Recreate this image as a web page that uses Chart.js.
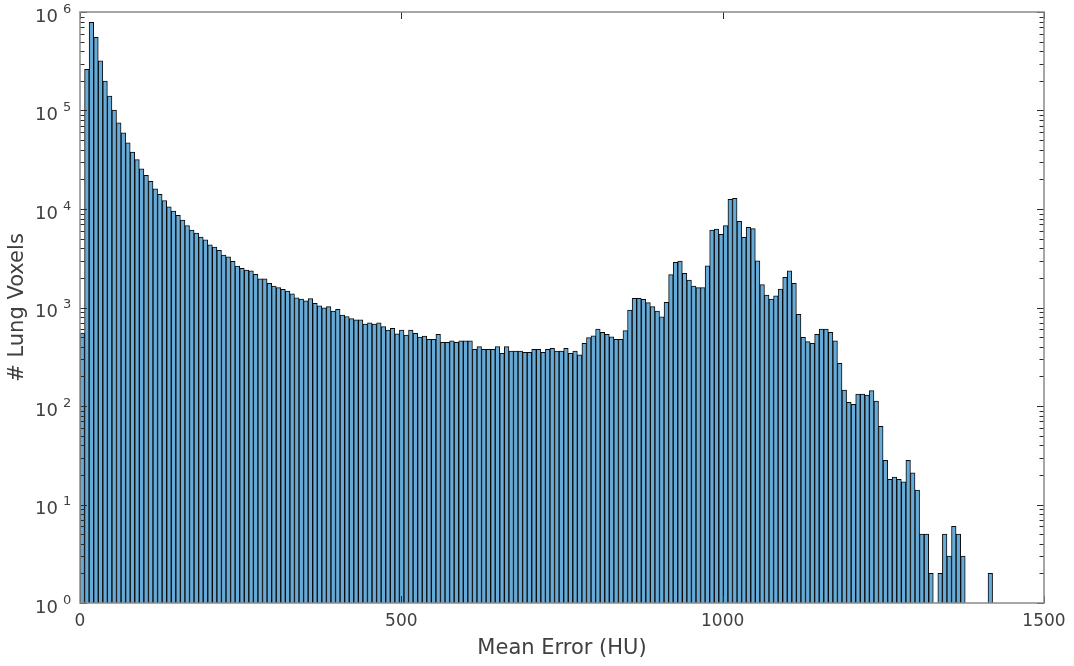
<!DOCTYPE html>
<html>
<head>
<meta charset="utf-8">
<title>Lung voxel error histogram</title>
<script src="https://cdn.jsdelivr.net/npm/chart.js@4.4.1/dist/chart.umd.min.js"></script>
<style>
  html, body { margin: 0; padding: 0; background: #fff; }
  #histChart { display: block; }
</style>
</head>
<body>
<canvas id="histChart" width="1074" height="666"></canvas>
<script>
// histogram bins: 200 bins of 7.1 HU starting at 0
const BIN_WIDTH = 7.1;

// voxel counts per bin (null = empty bin)
const counts = [
  550, 262000, 785000, 553000, 320000, 199000, 140000, 101000, 75000, 59500,
  47000, 37900, 31700, 25600, 22000, 19100, 16000, 14100, 12200, 10500,
  9500, 8600, 7700, 6800, 6100, 5700, 5200, 4850, 4340, 4100,
  3800, 3400, 3260, 2950, 2640, 2500, 2400, 2350, 2170, 1960,
  1960, 1760, 1650, 1590, 1530, 1470, 1380, 1250, 1220, 1170,
  1230, 1100, 1040, 990, 1020, 920, 960, 840, 810, 770,
  750, 750, 680, 700, 680, 700, 640, 590, 615, 540,
  590, 525, 590, 547, 500, 513, 475, 475, 535, 443,
  443, 460, 443, 460, 460, 460, 376, 400, 376, 376,
  376, 400, 343, 400, 362, 362, 362, 351, 351, 376,
  376, 351, 376, 385, 362, 362, 385, 343, 362, 330,
  433, 494, 517, 605, 560, 535, 505, 475, 475, 582,
  944, 1240, 1240, 1211, 1119, 1019, 921, 806, 1129, 2153,
  2877, 2965, 2223, 1900, 1652, 1589, 1589, 2655, 6120, 6270,
  5530, 6770, 12550, 12850, 7500, 5160, 6520, 6310, 2985, 1706,
  1340, 1220, 1310, 1540, 2028, 2350, 1762, 853, 498, 450,
  433, 535, 605, 605, 560, 460, 271, 145, 109, 104,
  132, 132, 129, 143, 112, 62, 28, 18, 19, 18,
  17, 28, 21, 14, 5, 5, 2, null, 2, 5,
  3, 6, 5, 3, null, null, null, null, null, 2
];

const xTicks = [0, 500, 1000, 1500];
const yDecades = [0, 1, 2, 3, 4, 5, 6];

const binCenters = counts.map((_, i) => (i + 0.5) * BIN_WIDTH);
const points = counts.map((c, i) => ({ x: binCenters[i], y: c }));

const TEXT_COLOR = "#404040";
const FONT = '"DejaVu Sans", sans-serif';

// MATLAB-like box, inward ticks and 10^n labels
const axesBox = {
  id: "axesBox",
  afterDraw(chart) {
    const { ctx, chartArea: a, scales } = chart;
    const xs = scales.x, ys = scales.y;
    ctx.save();

    // tick marks pointing into the plot, on all four sides
    ctx.strokeStyle = "#2b2b2b";
    ctx.lineWidth = 1;
    ctx.beginPath();
    yDecades.forEach((e) => {
      const y = Math.round(ys.getPixelForValue(Math.pow(10, e))) + 0.5;
      ctx.moveTo(a.left, y); ctx.lineTo(a.left + 7, y);
      ctx.moveTo(a.right, y); ctx.lineTo(a.right - 7, y);
      if (e < 6) {
        for (let k = 2; k <= 9; k++) {
          const ym = Math.round(ys.getPixelForValue(k * Math.pow(10, e))) + 0.5;
          ctx.moveTo(a.left, ym); ctx.lineTo(a.left + 4.5, ym);
          ctx.moveTo(a.right, ym); ctx.lineTo(a.right - 4.5, ym);
        }
      }
    });
    xTicks.forEach((v) => {
      const x = Math.round(xs.getPixelForValue(v)) + 0.5;
      ctx.moveTo(x, a.bottom); ctx.lineTo(x, a.bottom - 7);
      ctx.moveTo(x, a.top); ctx.lineTo(x, a.top + 7);
    });
    ctx.stroke();

    // axes box
    ctx.strokeStyle = "#8a8a8a";
    ctx.lineWidth = 1.5;
    ctx.strokeRect(a.left, a.top, a.right - a.left, a.bottom - a.top);

    // y labels as 10 with a raised exponent
    ctx.fillStyle = TEXT_COLOR;
    ctx.textBaseline = "alphabetic";
    yDecades.forEach((e) => {
      const y = ys.getPixelForValue(Math.pow(10, e));
      ctx.font = "18px " + FONT;
      ctx.textAlign = "right";
      ctx.fillText("10", a.left - 22, y + 9.5);
      ctx.font = "13px " + FONT;
      ctx.textAlign = "left";
      ctx.fillText(String(e), a.left - 17, y + 0.5);
    });
    ctx.restore();
  },
};

const ctx = document.getElementById("histChart").getContext("2d");
const histChart = new Chart(ctx, {
  type: "bar",
  data: {
    datasets: [
      {
        label: "# Lung Voxels",
        data: points,
        backgroundColor: "rgb(102, 170, 215)",
        borderColor: "#0a0a0a",
        borderWidth: 1,
        borderSkipped: "start",
        barPercentage: 1.0,
        categoryPercentage: 1.0,
      },
    ],
  },
  options: {
    responsive: false,
    animation: false,
    devicePixelRatio: 1,
    layout: { padding: { top: 12, right: 30, left: 0, bottom: 0 } },
    plugins: {
      legend: { display: false },
      tooltip: { enabled: false },
    },
    scales: {
      x: {
        type: "linear",
        offset: false,
        min: 0,
        max: 1500,
        grid: { display: false, drawTicks: false, offset: false },
        border: { display: false },
        ticks: {
          stepSize: 500,
          padding: 8,
          color: TEXT_COLOR,
          font: { family: FONT, size: 17 },
          maxRotation: 0,
          callback: (v) => String(v),
        },
        afterBuildTicks(scale) {
          scale.ticks = xTicks.map((v) => ({ value: v }));
        },
        title: {
          display: true,
          text: "Mean Error (HU)",
          color: TEXT_COLOR,
          font: { family: FONT, size: 21 },
          padding: { top: 0, bottom: 5 },
        },
        afterFit(scale) {
          scale.height = 63;
        },
      },
      y: {
        type: "logarithmic",
        min: 1,
        max: 1000000,
        grid: { display: false, drawTicks: false },
        border: { display: false },
        ticks: { display: false },
        title: {
          display: true,
          text: "# Lung Voxels",
          color: TEXT_COLOR,
          font: { family: FONT, size: 21 },
          padding: { top: 5, bottom: 0 },
        },
        afterFit(scale) {
          scale.width = 80;
        },
      },
    },
  },
  plugins: [axesBox],
});
</script>
</body>
</html>
